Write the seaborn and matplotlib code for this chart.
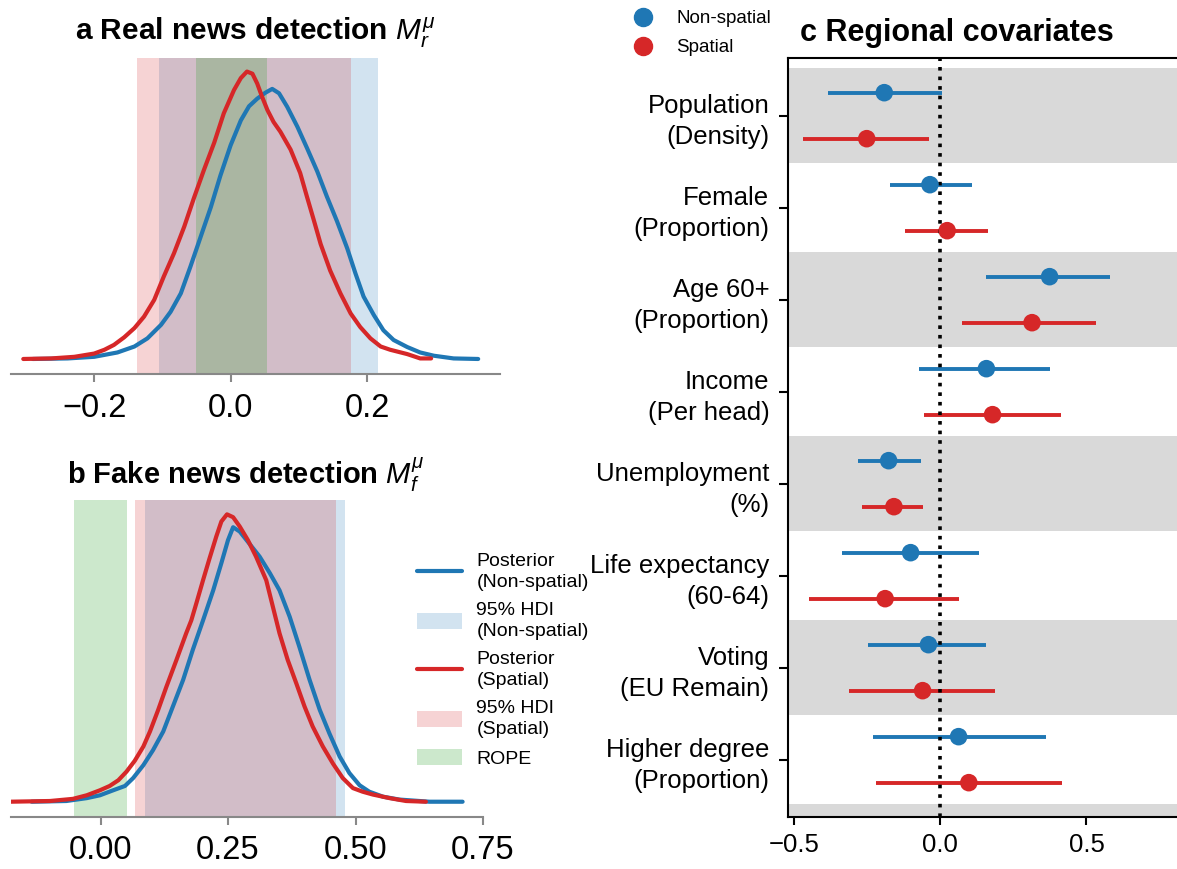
import numpy as np
import pandas as pd
import matplotlib
matplotlib.use("Agg")
import matplotlib.pyplot as plt
from matplotlib.lines import Line2D
from matplotlib.patches import Patch
import seaborn as sns

# ---------------- data ----------------
# Panel a: posterior densities (real news detection)
a_red_x = [-0.304, -0.263, -0.229, -0.200, -0.185, -0.171, -0.156, -0.141, -0.127, -0.112, -0.098,
           -0.083, -0.068, -0.054, -0.039, -0.024, -0.010, 0.005, 0.015, 0.024, 0.032, 0.039,
           0.046, 0.054, 0.063, 0.073, 0.088, 0.102, 0.112, 0.122, 0.132, 0.146, 0.161, 0.176,
           0.190, 0.205, 0.220, 0.234, 0.259, 0.278, 0.294]
a_red_d = [0.0, 0.01, 0.04, 0.10, 0.17, 0.26, 0.40, 0.57, 0.78, 1.09, 1.52,
           1.95, 2.44, 2.96, 3.49, 3.99, 4.53, 4.96, 5.18, 5.30, 5.26, 5.08,
           4.84, 4.59, 4.37, 4.19, 3.86, 3.43, 2.99, 2.56, 2.12, 1.63, 1.21, 0.84,
           0.59, 0.38, 0.23, 0.17, 0.09, 0.01, 0.01]
a_blue_x = [-0.290, -0.239, -0.200, -0.166, -0.141, -0.122, -0.102, -0.088, -0.073, -0.059, -0.044,
            -0.029, -0.015, 0.000, 0.015, 0.027, 0.039, 0.051, 0.061, 0.071, 0.083, 0.098,
            0.112, 0.127, 0.141, 0.156, 0.171, 0.183, 0.195, 0.210, 0.224, 0.239, 0.259,
            0.278, 0.298, 0.327, 0.363]
a_blue_d = [0.0, 0.01, 0.04, 0.12, 0.23, 0.38, 0.63, 0.87, 1.21, 1.70, 2.25,
            2.80, 3.38, 3.94, 4.40, 4.66, 4.80, 4.91, 4.98, 4.90, 4.65, 4.28,
            3.89, 3.46, 3.00, 2.54, 2.04, 1.58, 1.15, 0.81, 0.53, 0.35, 0.22,
            0.12, 0.06, 0.01, 0.0]
a_hdi_nonspatial = [-0.105, 0.216]
a_hdi_spatial = [-0.137, 0.177]
a_rope = [-0.051, 0.053]

# Panel b: posterior densities (fake news detection)
b_red_x = [-0.178, -0.099, -0.054, -0.027, -0.001, 0.018, 0.035, 0.051, 0.067, 0.084, 0.097,
           0.113, 0.129, 0.149, 0.168, 0.178, 0.188, 0.201, 0.214, 0.227, 0.237, 0.248,
           0.260, 0.273, 0.289, 0.305, 0.325, 0.338, 0.351, 0.367, 0.384, 0.400, 0.416,
           0.436, 0.456, 0.475, 0.495, 0.514, 0.534, 0.567, 0.599, 0.638]
b_red_d = [0.0, 0.01, 0.04, 0.09, 0.16, 0.22, 0.30, 0.42, 0.57, 0.77, 0.98,
           1.28, 1.60, 1.98, 2.35, 2.53, 2.77, 3.09, 3.40, 3.70, 3.91, 4.01,
           3.97, 3.84, 3.65, 3.42, 3.09, 2.72, 2.35, 1.98, 1.65, 1.33, 1.05,
           0.77, 0.53, 0.33, 0.19, 0.14, 0.10, 0.05, 0.01, 0.0]
b_blue_x = [-0.135, -0.067, -0.027, -0.001, 0.025, 0.048, 0.064, 0.084, 0.103, 0.123, 0.142,
            0.162, 0.181, 0.201, 0.221, 0.237, 0.250, 0.260, 0.273, 0.292, 0.312, 0.332,
            0.351, 0.371, 0.390, 0.410, 0.430, 0.449, 0.469, 0.488, 0.508, 0.527, 0.554,
            0.586, 0.645, 0.710]
b_blue_d = [0.0, 0.01, 0.05, 0.09, 0.16, 0.22, 0.33, 0.51, 0.72, 0.98, 1.33,
            1.70, 2.12, 2.53, 2.95, 3.33, 3.65, 3.83, 3.77, 3.60, 3.42, 3.19,
            2.95, 2.58, 2.16, 1.70, 1.28, 0.95, 0.63, 0.40, 0.23, 0.14, 0.07,
            0.03, 0.0, 0.0]
b_hdi_nonspatial = [0.087, 0.480]
b_hdi_spatial = [0.067, 0.461]
b_rope = [-0.052, 0.052]

# Panel c: regional covariates
covariates = ["Population\n(Density)", "Female\n(Proportion)", "Age 60+\n(Proportion)",
              "Income\n(Per head)", "Unemployment\n(%)", "Life expectancy\n(60-64)",
              "Voting\n(EU Remain)", "Higher degree\n(Proportion)"]
ns_mean = [-0.191, -0.035, 0.374, 0.158, -0.176, -0.101, -0.040, 0.063]
ns_lo = [-0.384, -0.172, 0.158, -0.072, -0.282, -0.337, -0.246, -0.231]
ns_hi = [0.005, 0.108, 0.581, 0.374, -0.064, 0.133, 0.155, 0.363]
sp_mean = [-0.251, 0.024, 0.314, 0.179, -0.158, -0.188, -0.060, 0.098]
sp_lo = [-0.468, -0.119, 0.074, -0.055, -0.266, -0.449, -0.311, -0.218]
sp_hi = [-0.039, 0.164, 0.531, 0.412, -0.060, 0.063, 0.186, 0.415]
models = ["Non-spatial", "Spatial"]

a_ticks = [-0.2, 0.0, 0.2]
b_ticks = [0.00, 0.25, 0.50, 0.75]
c_ticks = [-0.5, 0.0, 0.5]

# ---------------- style ----------------
sns.set_theme(style="white")
plt.rcParams["font.family"] = ["Liberation Sans", "DejaVu Sans"]
plt.rcParams["mathtext.fontset"] = "custom"
plt.rcParams["mathtext.it"] = "Liberation Sans:italic"
plt.rcParams["mathtext.rm"] = "Liberation Sans"
plt.rcParams["mathtext.bf"] = "Liberation Sans:bold"
for k in ["text.color", "axes.labelcolor", "xtick.color", "ytick.color"]:
    plt.rcParams[k] = "black"

BLUE = "#1f77b4"
RED = "#d62728"
GREEN = "#2ca02c"
GREY_BAND = "#d9d9d9"
SPINE_GREY = "#888888"

W, H = 1177, 869
fig = plt.figure(figsize=(W / 100, H / 100), dpi=100)


def rect(l, t, r, b):
    return [l / W, 1 - b / H, (r - l) / W, (b - t) / H]


ax_a = fig.add_axes(rect(11, 58, 500, 374))
ax_b = fig.add_axes(rect(11, 500, 483, 816.7))
ax_c = fig.add_axes(rect(788, 58, 1200, 816.7))


def density_panel(ax, rx, rd, bx, bd, hdi_ns, hdi_sp, rope, xlim, ylim, ticks, labels):
    ax.axvspan(hdi_ns[0], hdi_ns[1], color=BLUE, alpha=0.2, lw=0, zorder=0)
    ax.axvspan(hdi_sp[0], hdi_sp[1], color=RED, alpha=0.2, lw=0, zorder=0)
    ax.axvspan(rope[0], rope[1], color=GREEN, alpha=0.24, lw=0, zorder=0)
    sns.lineplot(x=bx, y=bd, ax=ax, color=BLUE, lw=3, estimator=None, zorder=2)
    sns.lineplot(x=rx, y=rd, ax=ax, color=RED, lw=3, estimator=None, zorder=3)
    ax.set_xlim(*xlim)
    ax.set_ylim(*ylim)
    ax.set_xticks(ticks)
    ax.set_xticklabels(labels)
    ax.set_yticks([])
    ax.set_xlabel("")
    ax.set_ylabel("")
    for s in ["top", "right", "left"]:
        ax.spines[s].set_visible(False)
    ax.spines["bottom"].set_color(SPINE_GREY)
    ax.spines["bottom"].set_linewidth(1.5)
    ax.tick_params(axis="x", bottom=True, direction="out", length=5.5, width=1.5,
                   color=SPINE_GREY, labelsize=23.5, pad=8, labelcolor="black")
    ax.patch.set_alpha(0)


density_panel(ax_a, a_red_x, a_red_d, a_blue_x, a_blue_d, a_hdi_nonspatial, a_hdi_spatial,
              a_rope, (-0.322, 0.395), (-0.277, 5.55), a_ticks, ["\u22120.2", "0.0", "0.2"])
density_panel(ax_b, b_red_x, b_red_d, b_blue_x, b_blue_d, b_hdi_nonspatial, b_hdi_spatial,
              b_rope, (-0.1755, 0.75), (-0.209, 4.21), b_ticks, ["0.00", "0.25", "0.50", "0.75"])

fig.text(255 / W, 1 - 39.5 / H, r"a Real news detection $M_r^{\mu}$", ha="center",
         va="baseline", fontsize=21.5, fontweight="bold")
fig.text(246 / W, 1 - 483.5 / H, r"b Fake news detection $M_f^{\mu}$", ha="center",
         va="baseline", fontsize=21, fontweight="bold")

# legend panel b
leg_b_handles = [
    Line2D([], [], color=BLUE, lw=3),
    Patch(facecolor=BLUE, alpha=0.2, edgecolor="none"),
    Line2D([], [], color=RED, lw=3),
    Patch(facecolor=RED, alpha=0.2, edgecolor="none"),
    Patch(facecolor=GREEN, alpha=0.24, edgecolor="none"),
]
leg_b_labels = ["Posterior\n(Non-spatial)", "95% HDI\n(Non-spatial)", "Posterior\n(Spatial)",
                "95% HDI\n(Spatial)", "ROPE"]
leg_b = fig.legend(leg_b_handles, leg_b_labels, loc="upper left",
                   bbox_to_anchor=(417 / W, 1 - 553 / H),
                   frameon=False, borderpad=0, borderaxespad=0, handlelength=2.3,
                   handleheight=0.9, handletextpad=0.75, labelspacing=0.56, fontsize=14)
for t in leg_b.get_texts():
    t.set_linespacing(1.32)

# ---------------- panel c ----------------
idx = np.arange(len(covariates))
df = pd.DataFrame({
    "covariate": covariates * 2,
    "model": [models[0]] * len(covariates) + [models[1]] * len(covariates),
    "mean": ns_mean + sp_mean,
    "lo": ns_lo + sp_lo,
    "hi": ns_hi + sp_hi,
    "pos": list(idx - 0.25) + list(idx + 0.25),
})
palette = {models[0]: BLUE, models[1]: RED}

for i in range(0, len(covariates) + 1, 2):
    ax_c.axhspan(i - 0.516, i + 0.516, color=GREY_BAND, lw=0, zorder=0)

for m in models:
    sub = df[df["model"] == m]
    ax_c.hlines(sub["pos"], sub["lo"], sub["hi"], color=palette[m], lw=2.8, zorder=2)

ax_c.axvline(0, color="black", ls=":", lw=2.6, zorder=2.5)
sns.scatterplot(data=df, x="mean", y="pos", hue="model", palette=palette, s=160,
                edgecolor="none", ax=ax_c, legend=False, zorder=3)

ax_c.set_xlim(-0.52, 0.888)
ax_c.set_ylim(7.62, -0.627)
ax_c.set_yticks(idx)
ax_c.set_yticklabels(covariates, fontsize=18.5)
for t in ax_c.get_yticklabels():
    t.set_linespacing(1.38)
ax_c.set_xticks(c_ticks)
ax_c.set_xticklabels(["\u22120.5", "0.0", "0.5"], fontsize=18.5)
ax_c.set_xlabel("")
ax_c.set_ylabel("")
for s in ["left", "bottom", "top"]:
    ax_c.spines[s].set_color("black")
    ax_c.spines[s].set_linewidth(1.5)
ax_c.spines["right"].set_visible(False)
ax_c.tick_params(axis="y", left=True, direction="out", length=6.5, width=1.5, color="black", pad=7)
ax_c.tick_params(axis="x", bottom=True, direction="out", length=6, width=1.5, color="black", pad=6)

fig.text(957 / W, 1 - 40.7 / H, "c Regional covariates", ha="center", va="baseline",
         fontsize=22, fontweight="bold")

leg_c_handles = [Line2D([], [], marker="o", ls="none", color=BLUE, markersize=13),
                 Line2D([], [], marker="o", ls="none", color=RED, markersize=13)]
fig.legend(leg_c_handles, models, loc="upper left", bbox_to_anchor=(624 / W, 1 - 10 / H),
           frameon=False, borderpad=0, borderaxespad=0, handlelength=2.0, handletextpad=0.8,
           labelspacing=0.65, fontsize=13.5)

fig.savefig("out.png", dpi=100)
